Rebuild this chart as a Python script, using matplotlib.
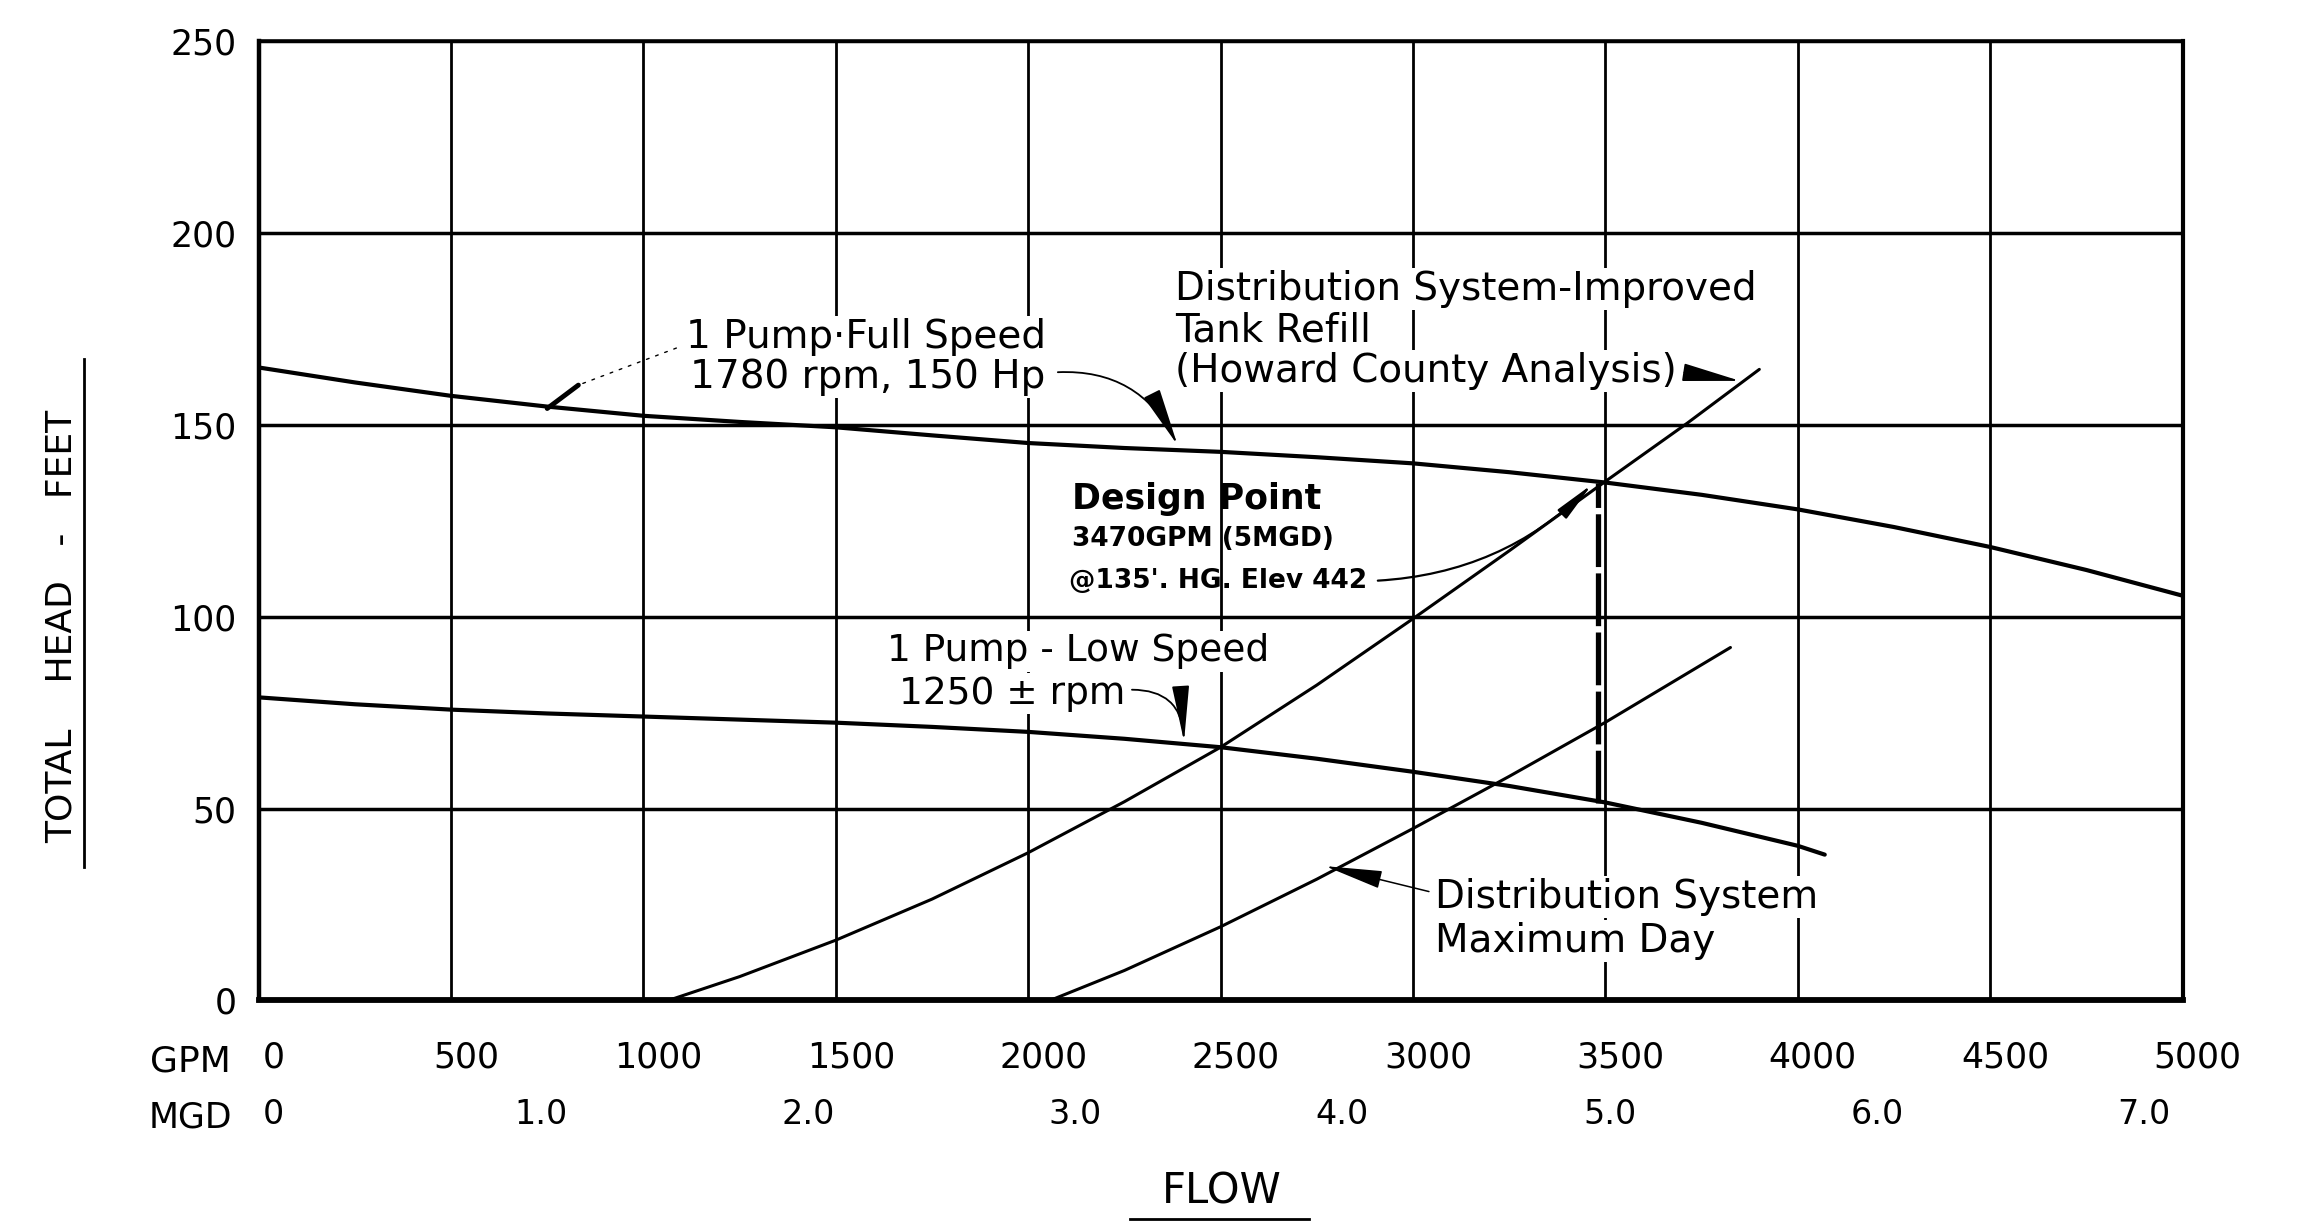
import matplotlib
matplotlib.use("Agg")
import matplotlib.pyplot as plt
from matplotlib.transforms import ScaledTranslation
from matplotlib.lines import Line2D
import numpy as np

# ---------------- data ----------------
gpm_ticks = [0, 500, 1000, 1500, 2000, 2500, 3000, 3500, 4000, 4500, 5000]
gpm_labels = ["0", "500", "1000", "1500", "2000", "2500", "3000", "3500", "4000", "4500", "5000"]
mgd_ticks = [0, 1, 2, 3, 4, 5, 6, 7]
mgd_labels = ["0", "1.0", "2.0", "3.0", "4.0", "5.0", "6.0", "7.0"]
head_ticks = [0, 50, 100, 150, 200, 250]
head_labels = ["0", "50", "100", "150", "200", "250"]

full_gpm = [0, 250, 500, 750, 1000, 1250, 1500, 1750, 2000, 2250, 2500, 2750,
            3000, 3250, 3500, 3750, 4000, 4250, 4500, 4750, 5000]
full_head = [165, 161.1, 157.6, 154.8, 152.4, 150.8, 149.4, 147.3, 145.3, 144.0, 143.0, 141.6,
             140.0, 137.7, 135.0, 131.8, 128.0, 123.4, 118.2, 112.2, 105.5]

low_gpm = [0, 250, 500, 750, 1000, 1250, 1500, 1750, 2000, 2250, 2500, 2750,
           3000, 3250, 3500, 3750, 4000, 4070]
low_head = [79, 77.2, 75.8, 74.8, 74.0, 73.2, 72.4, 71.3, 70.0, 68.2, 66.0, 63.0,
            59.6, 55.9, 51.6, 46.3, 40.3, 38.0]

refill_gpm = [1065, 1250, 1500, 1750, 2000, 2250, 2500, 2750, 3000, 3250, 3500, 3713, 3900]
refill_head = [0, 6.2, 15.7, 26.4, 38.5, 51.8, 66.0, 82.2, 99.5, 117.2, 135.3, 150.5, 164.5]

maxday_gpm = [2057, 2250, 2500, 2750, 3000, 3250, 3500, 3825]
maxday_head = [0, 7.8, 19.2, 31.6, 44.8, 58.4, 72.5, 92.0]

design_gpm = 3470
design_head = 135
design_drop_gpm = 3480
design_drop_bottom = 51.5

GPM_PER_MGD = 694.44

# ---------------- figure ----------------
W, H = 2317, 1229
fig = plt.figure(figsize=(W / 100, H / 100), dpi=100)
fig.patch.set_facecolor("white")
ax = fig.add_axes([258.6 / W, 1 - 1000.4 / H, (2182.6 - 258.6) / W, (1000.4 - 41.4) / H])
ax.set_xlim(0, 5000)
ax.set_ylim(0, 250)
ax.set_axisbelow(True)

for side, lw in (("left", 3.2), ("bottom", 4.2), ("right", 3.0), ("top", 2.6)):
    ax.spines[side].set_linewidth(lw)
    ax.spines[side].set_color("black")

ax.grid(axis="x", color="black", lw=2.0)
ax.grid(axis="y", color="black", lw=2.5)

ax.set_xticks(gpm_ticks, gpm_labels)
ax.set_yticks(head_ticks, head_labels)
ax.tick_params(axis="x", which="major", length=0, pad=29, labelsize=25)
ax.tick_params(axis="y", which="major", length=0, pad=16, labelsize=25)

off = ScaledTranslation(0.15, 0, fig.dpi_scale_trans)
for t in ax.xaxis.get_major_ticks():
    t.label1.set_transform(t.label1.get_transform() + off)

sec = ax.secondary_xaxis(0, functions=(lambda g: np.asarray(g) / GPM_PER_MGD,
                                       lambda m: np.asarray(m) * GPM_PER_MGD))
sec.spines["bottom"].set_visible(False)
sec.set_xticks(mgd_ticks, mgd_labels)
sec.set_xticks(mgd_ticks[1:], minor=True)
sec.tick_params(which="major", length=0, pad=70, labelsize=24)
sec.tick_params(which="minor", direction="inout", length=13, width=2.5, color="black")
for t in sec.xaxis.get_major_ticks():
    t.label1.set_transform(t.label1.get_transform() + off)

# ---------------- curves ----------------
ax.plot(full_gpm, full_head, color="black", lw=3.0, solid_capstyle="round", zorder=3)
ax.plot(low_gpm, low_head, color="black", lw=3.0, solid_capstyle="round", zorder=3)
ax.plot(refill_gpm, refill_head, color="black", lw=2.2, solid_capstyle="round", zorder=3)
ax.plot(maxday_gpm, maxday_head, color="black", lw=2.2, solid_capstyle="round", zorder=3)
ax.vlines(design_drop_gpm, design_drop_bottom, design_head, color="black", lw=3.8,
          linestyles=[(0, (10, 1.2))], zorder=3)

# ---------------- annotations ----------------
box = dict(facecolor="white", edgecolor="none", pad=1.5)
head_style = "-|>,head_length=1.3,head_width=0.2"

# full speed pump
ax.annotate("1 Pump·Full Speed", xy=(831, 160.4), xytext=(1111, 173), fontsize=28,
            va="center", ha="left", bbox=box, zorder=4,
            arrowprops=dict(arrowstyle="-", lw=1.0, ls=(0, (2, 5)), color="black",
                            relpos=(0, 0.3), shrinkA=6, shrinkB=0))
ax.annotate("", xy=(750, 154.3), xytext=(831, 160.4),
            arrowprops=dict(arrowstyle="-", lw=3.5, color="black", shrinkA=0, shrinkB=0,
                            capstyle="round"))
ax.annotate("1780 rpm, 150 Hp", xy=(2388, 144.8), xytext=(1120, 162.5), fontsize=28,
            va="center", ha="left", bbox=box, zorder=4,
            arrowprops=dict(arrowstyle=head_style, connectionstyle="arc3,rad=-0.35",
                            lw=1.3, color="black", relpos=(1, 0.6), shrinkA=8, shrinkB=0))

# improved tank refill
ax.text(2382, 185.5, "Distribution System-Improved", fontsize=28, va="center", ha="left",
        bbox=box, zorder=4)
ax.text(2382, 174.6, "Tank Refill", fontsize=28, va="center", ha="left", bbox=box, zorder=4)
ax.annotate("(Howard County Analysis)", xy=(3850, 161.5), xytext=(2382, 164.0), fontsize=28,
            va="center", ha="left", bbox=box, zorder=4,
            arrowprops=dict(arrowstyle=head_style, lw=1.3, color="black",
                            relpos=(1, 0.5), shrinkA=4, shrinkB=0))

# design point
ax.text(2113, 130.7, "Design Point", fontsize=25, fontweight="bold", va="center", ha="left")
ax.text(2113, 120.4, "3470GPM (5MGD)", fontsize=19, fontweight="bold", va="center", ha="left")
ax.annotate("@135'. HG. Elev 442", xy=(design_gpm, design_head), xytext=(2105, 109.3),
            fontsize=19, fontweight="bold", va="center", ha="left",
            arrowprops=dict(arrowstyle=head_style, connectionstyle="arc3,rad=0.2",
                            lw=1.6, color="black", relpos=(1, 0.5), shrinkA=6, shrinkB=2))

# low speed pump
ax.text(1632, 91, "1 Pump - Low Speed", fontsize=27, va="center", ha="left", bbox=box, zorder=4)
ax.annotate("1250 ± rpm", xy=(2405, 67.5), xytext=(1665, 80), fontsize=27,
            va="center", ha="left", bbox=box, zorder=4,
            arrowprops=dict(arrowstyle=head_style, connectionstyle="arc3,rad=-0.5",
                            lw=1.3, color="black", relpos=(1, 0.6), shrinkA=3, shrinkB=0))

# maximum day
ax.annotate("Distribution System", xy=(2772, 35.0), xytext=(3057, 27), fontsize=28,
            va="center", ha="left", bbox=box, zorder=4,
            arrowprops=dict(arrowstyle=head_style, lw=1.1, color="black",
                            relpos=(0, 0.6), shrinkA=3, shrinkB=0))
ax.text(3057, 15.5, "Maximum Day", fontsize=28, va="center", ha="left", bbox=box, zorder=4)

# ---------------- axis titles ----------------
fig.text(190 / W, 1 - 1061 / H, "GPM", fontsize=26, ha="center", va="center")
fig.text(190 / W, 1 - 1117 / H, "MGD", fontsize=25, ha="center", va="center")

fig.text(62 / W, 1 - 626 / H, "TOTAL    HEAD   -   FEET", fontsize=26, rotation=90,
         ha="center", va="center")
fig.add_artist(Line2D([84 / W, 84 / W], [1 - 867 / H, 1 - 359 / H],
                      transform=fig.transFigure, color="black", lw=2.0))

fig.text(1222 / W, 1 - 1192 / H, "FLOW", fontsize=30, ha="center", va="center")
fig.add_artist(Line2D([1130 / W, 1309 / W], [1 - 1219 / H, 1 - 1219 / H],
                      transform=fig.transFigure, color="black", lw=2.0))

fig.savefig("out.png", dpi=100, facecolor="white")
